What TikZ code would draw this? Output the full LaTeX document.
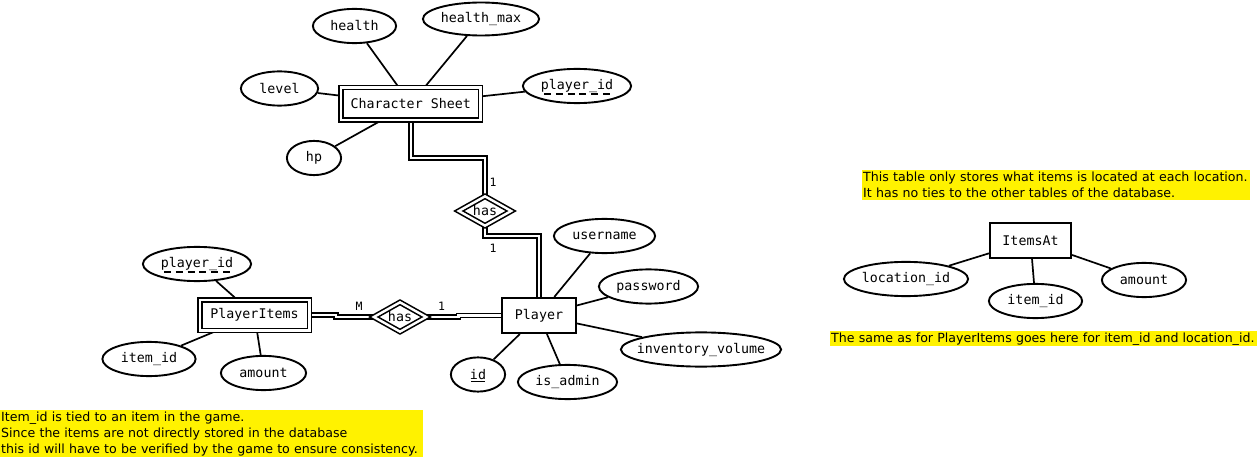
\documentclass[tikz,border=0pt]{standalone}
\usepackage{fontspec}
\setmainfont{DejaVu Sans}
\newfontfamily\monof{DejaVu Sans Mono}
\usetikzlibrary{shapes.geometric,backgrounds}
\newcommand{\zw}[1]{\makebox[0pt]{#1}}
\tikzset{
  base/.style={font=\monof\fontsize{13.3}{15}\selectfont, fill=white, inner sep=0pt},
  ent/.style={base, rectangle, draw, line width=1.9pt, minimum height=35.2pt},
  weak/.style={base, rectangle, draw, double, line width=1.6pt, double distance=2.4pt},
  attr/.style={base, ellipse, draw, line width=1.9pt, minimum height=34.2pt},
  rel/.style={base, diamond, draw, double, line width=1.6pt, double distance=2.4pt, minimum width=53pt, minimum height=30pt},
  link/.style={line width=1.7pt},
  dbl/.style={double, line width=1.6pt, double distance=2.4pt},
  card/.style={font=\monof\fontsize{11.5}{13}\selectfont, inner sep=0pt},
  note/.style={fill=yellow, inner xsep=1pt, inner ysep=0pt, anchor=north west, align=left, font=\fontsize{12.6}{16}\selectfont},
  keyline/.style={line width=1.4pt},
  pkdash/.style={line width=1.4pt, dash pattern=on 7pt off 4.8pt},
}
\begin{document}
\begin{tikzpicture}[x=1pt,y=-1pt]
\useasboundingbox (0,0) rectangle (1258,457);

% Character Sheet cluster
\node[weak, minimum width=139.1pt, minimum height=32.6pt] (cs) at (410.75,104) {\zw{Character Sheet}};
\node[attr, minimum width=83.2pt] (health) at (354.5,26) {\zw{health}};
\node[attr, minimum width=116.2pt, minimum height=33pt] (hmax) at (481,19) {\zw{health\_max}};
\node[attr, minimum width=77.2pt] (level) at (279.5,88.5) {\zw{level}};
\node[attr, minimum width=108.2pt] (cspid) at (577,86) {\zw{player\_id}};
\node[attr, minimum width=54.2pt] (hp) at (314,158) {\zw{hp}};

% relationships
\node[rel] (hA) at (485,211) {\zw{has}};
\node[rel] (hB) at (400,317) {\zw{has}};

% Player cluster
\node[ent, minimum width=74.2pt] (pl) at (539,315.5) {\zw{Player}};
\node[attr, minimum width=101.2pt] (user) at (604.5,236) {\zw{username}};
\node[attr, minimum width=99.2pt] (pass) at (648.5,286.5) {\zw{password}};
\node[attr, minimum width=160.2pt] (inv) at (701,349.5) {\zw{inventory\_volume}};
\node[attr, minimum width=99.2pt] (adm) at (567.5,382) {\zw{is\_admin}};
\node[attr, minimum width=54.2pt] (pid) at (478,374.5) {\zw{id}};

% PlayerItems cluster
\node[weak, minimum width=109.6pt, minimum height=30.6pt] (pi) at (254.5,315) {\zw{PlayerItems}};
\node[attr, minimum width=108.2pt] (pipid) at (197,264) {\zw{player\_id}};
\node[attr, minimum width=93.2pt] (piitem) at (149,359) {\zw{item\_id}};
\node[attr, minimum width=85.2pt] (piamt) at (263.5,373) {\zw{amount}};

% ItemsAt cluster
\node[ent, minimum width=81.2pt] (ia) at (1030.5,240.5) {\zw{ItemsAt}};
\node[attr, minimum width=124.2pt] (loc) at (906,279) {\zw{location\_id}};
\node[attr, minimum width=93.2pt] (iaitem) at (1035.5,301) {\zw{item\_id}};
\node[attr, minimum width=84.2pt] (iaamt) at (1144,280) {\zw{amount}};

% key underlines
\draw[pkdash] ([shift={(-33,8)}]cspid.center) -- ([shift={(33,8)}]cspid.center);
\draw[pkdash] ([shift={(-33,8)}]pipid.center) -- ([shift={(33,8)}]pipid.center);
\draw[keyline] ([shift={(-7,7)}]pid.center) -- ([shift={(7,7)}]pid.center);

% cardinalities
\node[card] (c1) at (493,182) {1};
\node[card] (c2) at (493,248) {1};
\node[card] (c3) at (359,306) {M};
\node[card] (c4) at (441.5,306) {1};

% notes
\node[note, text width=421pt, minimum height=47pt] (n1) at (0,410)
  {Item\_id is tied to an item in the game.\\Since the items are not directly stored in the database\\this id will have to be verified by the game to ensure consistency.};
\node[note, text width=386pt, minimum height=30pt] (n2) at (862,170)
  {This table only stores what items is located at each location.\\It has no ties to the other tables of the database.};
\node[note, text width=425pt, minimum height=15pt] (n3) at (830,331)
  {The same as for PlayerItems goes here for item\_id and location\_id.};

\begin{scope}[on background layer]
  \foreach \a in {health,hmax,level,cspid,hp} \draw[link] (\a) -- (cs);
  \foreach \a in {user,pass,inv,adm,pid} \draw[link] (\a) -- (pl);
  \foreach \a in {pipid,piitem,piamt} \draw[link] (\a) -- (pi);
  \foreach \a in {loc,iaitem,iaamt} \draw[link] (\a) -- (ia);
  \draw[dbl] (cs.south) -- ++(0,37) -| (hA.north);
  \draw[dbl] (hA.south) -- ++(0,9) -| (pl.north);
  \draw[dbl] (pi.east) -- ++(26,0) |- (hB.west);
  \draw[dbl] (hB.east) -- ++(31,0) |- (pl.west);
\end{scope}
\end{tikzpicture}
\end{document}
